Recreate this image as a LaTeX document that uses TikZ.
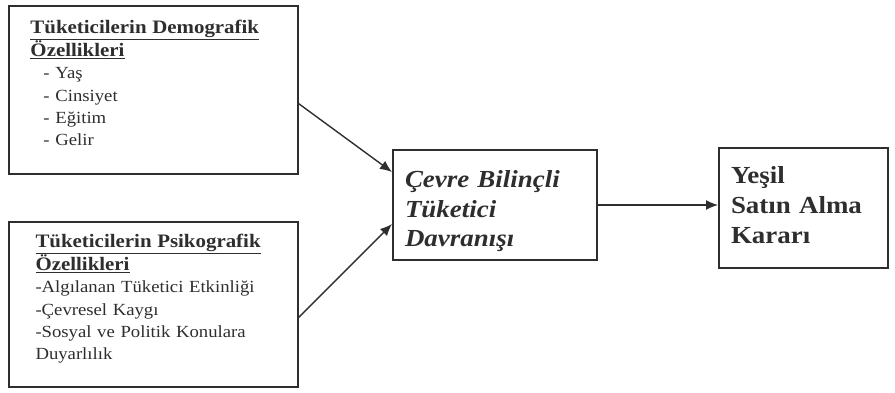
\documentclass[tikz,border=0pt]{standalone}
\usepackage{fontspec}
\setmainfont[FakeStretch=1.1]{Liberation Serif}
\usetikzlibrary{arrows.meta}
\definecolor{ink}{HTML}{2E2E2E}
\begin{document}
\begin{tikzpicture}[x=1pt, y=-1pt,
  box/.style={draw=ink, line width=2pt, rectangle, anchor=north west, text=ink, inner ysep=0pt},
  side/.style={box, minimum width=289pt, align=left, font=\fontsize{17}{22.4}\selectfont},
  flow/.style={draw=ink, line width=1.4pt, -{Latex[length=12pt, width=10pt]}}]
\useasboundingbox (0,0) rectangle (895,392);
% left boxes
\node[side, minimum height=168pt, text width=245pt, inner xsep=22pt] (demo) at (7.5,4.5){%
  {\fontsize{19}{22.4}\selectfont\textbf{\underline{Tüketicilerin Demografik}}}\\
  {\fontsize{19}{22.4}\selectfont\textbf{\underline{Özellikleri}}}\\
  \hspace*{13pt}- Yaş\\
  \hspace*{13pt}- Cinsiyet\\
  \hspace*{13pt}- Eğitim\\
  \hspace*{13pt}- Gelir\\[-10pt]\mbox{}};
\node[side, minimum height=165pt, text width=235pt, inner xsep=27pt] (psiko) at (7.5,221){%
  {\fontsize{19}{22.4}\selectfont\textbf{\underline{Tüketicilerin Psikografik}}}\\
  {\fontsize{19}{22.4}\selectfont\textbf{\underline{Özellikleri}}}\\
  -Algılanan Tüketici Etkinliği\\
  -Çevresel Kaygı\\
  -Sosyal ve Politik Konulara\\
  Duyarlılık\\[-8pt]\mbox{}};
% middle and right boxes
\node[box, minimum width=204pt, minimum height=110pt, text width=180pt, inner xsep=12pt, align=left,
  font=\fontsize{24.5}{29.5}\selectfont\bfseries\itshape] (cevre) at (392,149){%
  \rule{0pt}{30pt}Çevre Bilinçli\\
  Tüketici\\
  Davranışı};
\node[box, minimum width=169pt, minimum height=120pt, text width=145pt, inner xsep=12pt, align=left,
  font=\fontsize{24.5}{30}\selectfont\bfseries] (karar) at (718,147){%
  Yeşil\\
  Satın Alma\\
  Kararı\\[-24pt]\mbox{}};
% arrows
\draw[flow] ([yshift=-14pt]demo.east) -- ([yshift=33pt]cevre.west);
\draw[flow] ([yshift=-13pt]psiko.east) -- ([yshift=-19pt]cevre.west);
\draw[flow] (cevre.east) -- (karar.west |- cevre.east);
\end{tikzpicture}
\end{document}
